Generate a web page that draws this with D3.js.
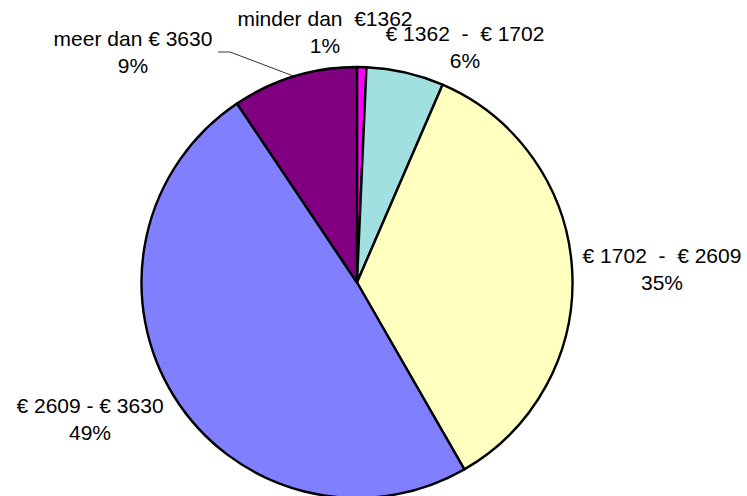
<!DOCTYPE html>
<html>
<head>
<meta charset="utf-8">
<script src="https://cdn.jsdelivr.net/npm/d3@7"></script>
<style>
  body { margin: 0; background: #fff; }
  text { font-family: "Liberation Sans", Arial, sans-serif; font-size: 21px; fill: #000; }
</style>
</head>
<body>
<div id="chart"></div>
<script>
// Slice data (clockwise from 12 o'clock)
const categories = ["minder dan  €1362", "€ 1362  -  € 1702", "€ 1702  -  € 2609", "€ 2609 - € 3630", "meer dan € 3630"];
const shares = [0.7, 5.8, 35.2, 48.9, 9.4];
const pctLabels = ["1%", "6%", "35%", "49%", "9%"];
const colors = ["#FF00FF", "#A0E0E0", "#FFFFC0", "#8080FF", "#800080"];

const width = 747;
const height = 496;
const cx = 357, cy = 282.5, radius = 215.5;

// label centre x and first baseline y
const labelPos = [[325, 26], [465, 41], [662, 263], [90, 413], [133, 46]];
const lineGap = 27;

const svg = d3.create("svg")
    .attr("width", width)
    .attr("height", height);
d3.select("#chart").append(() => svg.node());

const data = categories.map((c, i) => ({ cat: c, v: shares[i], pct: pctLabels[i], color: colors[i], pos: labelPos[i] }));

const pie = d3.pie().sort(null).value(d => d.v);
const arc = d3.arc().innerRadius(0).outerRadius(radius);

const g = svg.append("g").attr("transform", `translate(${cx},${cy})`);

g.selectAll("path")
    .data(pie(data))
    .join("path")
    .attr("d", arc)
    .attr("fill", d => d.data.color)
    .attr("stroke", "#000")
    .attr("stroke-width", 2.4)
    .attr("stroke-linejoin", "round");

// leader line for the "meer dan" slice
const last = pie(data)[4];
const mid = (last.startAngle + last.endAngle) / 2;
const ex = cx + radius * Math.sin(mid), ey = cy - radius * Math.cos(mid);
svg.append("polyline")
    .attr("points", `218,52 230,52 ${ex},${ey}`)
    .attr("fill", "none")
    .attr("stroke", "#000")
    .attr("stroke-width", 0.8);

// labels
const labels = svg.selectAll("g.lbl")
    .data(data)
    .join("g")
    .attr("class", "lbl");

labels.append("text")
    .attr("x", d => d.pos[0])
    .attr("y", d => d.pos[1])
    .attr("text-anchor", "middle")
    .attr("xml:space", "preserve")
    .style("white-space", "pre")
    .text(d => d.cat);

labels.append("text")
    .attr("x", d => d.pos[0])
    .attr("y", d => d.pos[1] + lineGap)
    .attr("text-anchor", "middle")
    .text(d => d.pct);
</script>
</body>
</html>
